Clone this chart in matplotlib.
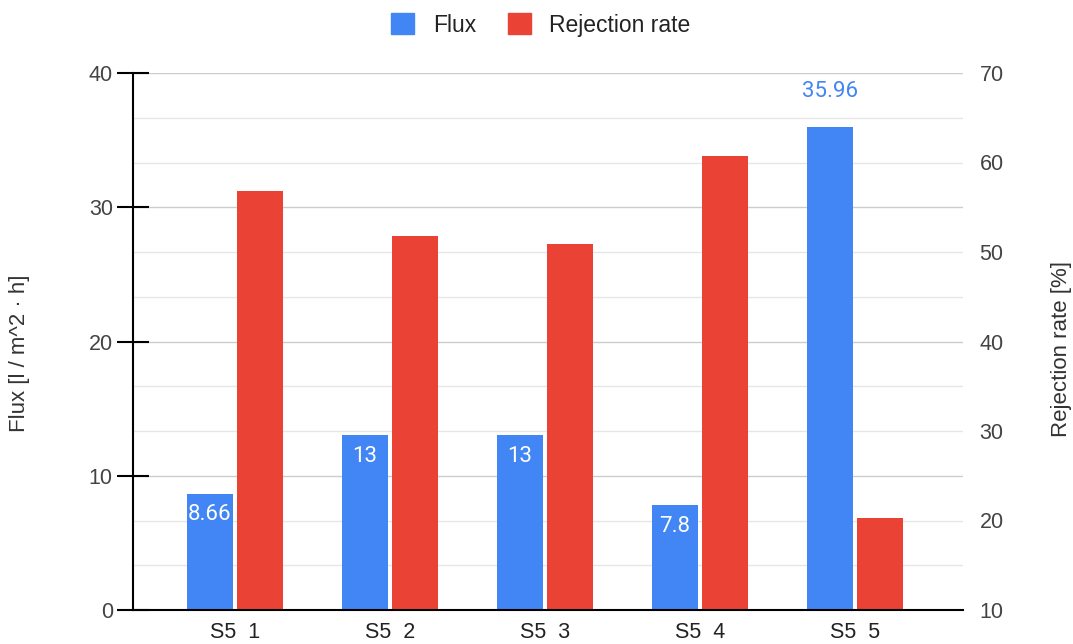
import matplotlib
matplotlib.use("Agg")
import matplotlib.pyplot as plt
import numpy as np
from matplotlib.patches import Patch

categories = ["S5  1", "S5  2", "S5  3", "S5  4", "S5  5"]
flux = [8.66, 13, 13, 7.8, 35.96]
rejection = [56.8, 51.8, 50.9, 60.7, 20.3]
flux_labels = ["8.66", "13", "13", "7.8", "35.96"]

BLUE = "#4285F4"
RED = "#EA4335"
plt.rcParams['font.family'] = ['Liberation Sans', 'DejaVu Sans']

fig = plt.figure(figsize=(10.73, 6.44), dpi=100)
ax = fig.add_axes([133/1073, 34/644, 830/1073, 537/644])
ax2 = ax.twinx()

x = np.arange(len(categories))
w = 0.297
off = 0.161

ax.set_xlim(-0.658, 4.697)
ax.set_ylim(0, 40)
ax2.set_ylim(10, 70)

# gridlines (in right-axis units so they sit behind all bars)
for i in range(1, 13):
    v = 10 + i * 5
    col = "#cccccc" if i % 3 == 0 else "#e6e6e6"
    ax2.axhline(v, color=col, lw=1, zorder=0)

bars1 = ax.bar(x - off, flux, width=w, color=BLUE, zorder=3)
bars2 = ax2.bar(x + off, rejection, width=w, color=RED, zorder=3)

for i, (b, lab) in enumerate(zip(bars1, flux_labels)):
    h = b.get_height()
    cx = b.get_x() + b.get_width() / 2
    if h > 30:
        ax.annotate(lab, (cx, h), xytext=(0, 26), textcoords="offset points",
                    ha="center", va="center", color=BLUE, fontsize=16,
                    family=['Roboto', 'DejaVu Sans'], zorder=5)
    else:
        ax.annotate(lab, (cx, h), xytext=(0, -15), textcoords="offset points",
                    ha="center", va="center", color="white", fontsize=16,
                    family=['Roboto', 'DejaVu Sans'], zorder=5)

ax.set_xticks(x)
ax.set_xticklabels(categories)
ax.tick_params(axis='x', length=0, pad=9, labelsize=15.5, labelcolor="#222222")
ax.set_yticks([0, 10, 20, 30, 40])
ax.tick_params(axis='y', direction='inout', length=23, width=1.5, color='black',
               pad=3, labelsize=15.5, labelcolor="#444444")
ax2.set_yticks([10, 20, 30, 40, 50, 60, 70])
ax2.tick_params(axis='y', length=0, pad=12, labelsize=15.5, labelcolor="#444444")

for a in (ax, ax2):
    for s in ("top", "right"):
        a.spines[s].set_visible(False)
ax2.spines["left"].set_visible(False)
ax2.spines["bottom"].set_visible(False)
ax.spines["left"].set_linewidth(1.5)
ax.spines["bottom"].set_linewidth(1.5)
ax.spines["left"].set_zorder(6)
ax.spines["bottom"].set_zorder(6)
ax.set_zorder(1)
ax2.set_zorder(0)
ax.patch.set_visible(False)

fig.text(20/1073, 1 - 353/644, "Flux [l / m^2 · h]", rotation=90, ha="center",
         va="center", fontsize=16, color="#333333")
fig.text(1062/1073, 1 - 349/644, "Rejection rate [%]", rotation=90, ha="center",
         va="center", fontsize=16, color="#333333")

handles = [Patch(color=BLUE, label="Flux"), Patch(color=RED, label="Rejection rate")]
fig.legend(handles=handles, loc="center", bbox_to_anchor=(541/1073, 1 - 25/644),
           ncol=2, frameon=False, fontsize=16.5, handlelength=1.0, handleheight=1.0,
           columnspacing=1.4, handletextpad=0.8, labelcolor="#222222")

fig.savefig("out.png", dpi=100)
